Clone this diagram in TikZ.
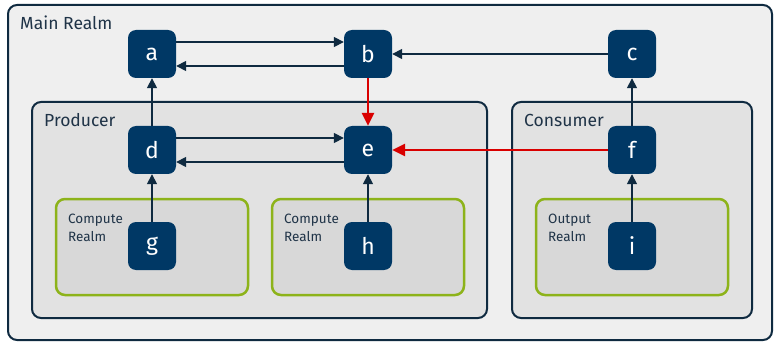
\documentclass[tikz,border=0pt]{standalone}
\usepackage{fontspec}
\setmainfont{Fira Sans}
\usetikzlibrary{arrows.meta, positioning}
\definecolor{rmnavy}{HTML}{003865}
\definecolor{rmline}{HTML}{0F2A40}
\definecolor{rmgreen}{HTML}{8DB31A}
\definecolor{rmred}{HTML}{D90000}
\definecolor{rmouter}{HTML}{EFEFEF}
\definecolor{rminner}{HTML}{E2E2E2}
\definecolor{rmsub}{HTML}{D8D8D8}
\definecolor{rmtext}{HTML}{1F3347}

\tikzset{
  realmbox/.style={draw=rmline, line width=2pt, rounded corners=9pt},
  subrealm/.style={draw=rmgreen, line width=2.5pt, rounded corners=9pt, fill=rmsub},
  comp/.style={fill=rmnavy, text=white, rounded corners=8pt, minimum size=48pt,
    inner sep=0pt, font=\fontsize{23}{23}\selectfont},
  flow/.style={-{Triangle[length=10pt, width=10pt]}, line width=1.6pt, draw=rmline},
  redflow/.style={-{Triangle[length=13pt, width=12pt]}, line width=2.8pt, draw=rmred},
  realmlabel/.style={anchor=base west, text=rmtext, inner sep=0pt,
    font=\fontsize{17.5}{17.5}\selectfont},
  sublabel/.style={anchor=base west, text=rmtext, align=left, inner sep=0pt,
    font=\fontsize{13.5}{18}\selectfont}
}

\begin{document}
\begin{tikzpicture}[x=1pt, y=-1pt]
                \useasboundingbox (0,0) rectangle (774,342);

                % Main realm
                \draw[realmbox, fill=rmouter] (8,5) rectangle (772,340);
                \node[realmlabel] at (20,30) {Main Realm};

                % Producer and consumer
                \draw[realmbox, fill=rminner] (32,102) rectangle (487,318);
                \node[realmlabel] at (44,127) {Producer};
                \draw[realmbox, fill=rminner] (512,102) rectangle (752,318);
                \node[realmlabel] at (524,127) {Consumer};

                % Inner realms
                \draw[subrealm] (56,199) rectangle (248,295);
                \node[sublabel] at (68,241) {Compute\\Realm};
                \draw[subrealm] (272,199) rectangle (464,295);
                \node[sublabel] at (284,241) {Compute\\Realm};
                \draw[subrealm] (536,199) rectangle (728,295);
                \node[sublabel] at (548,241) {Output\\Realm};

                % Components
                \node[comp] (a) at (152,54) {a};
                \node[comp] (b) at (368,54) {b};
                \node[comp] (c) at (632,54) {c};
                \node[comp] (d) at (152,150) {d};
                \node[comp] (e) at (368,150) {e};
                \node[comp] (f) at (632,150) {f};
                \node[comp] (g) at (152,246) {g};
                \node[comp] (h) at (368,246) {h};
                \node[comp] (i) at (632,246) {i};

                % Horizontal links
                \draw[flow] ([yshift=12pt]a.east) -- ([yshift=12pt]b.west);
                \draw[flow] ([yshift=-12pt]b.west) -- ([yshift=-12pt]a.east);
                \draw[flow] (c) -- (b);
                \draw[flow] ([yshift=12pt]d.east) -- ([yshift=12pt]e.west);
                \draw[flow] ([yshift=-12pt]e.west) -- ([yshift=-12pt]d.east);

                % Vertical links
                \draw[flow] (d) -- (a);
                \draw[flow] (g) -- (d);
                \draw[flow] (h) -- (e);
                \draw[flow] (f) -- (c);
                \draw[flow] (i) -- (f);

                % Red links
                \draw[redflow] (b) -- (e);
                \draw[redflow] (f) -- (e);
            \end{tikzpicture}
\end{document}
